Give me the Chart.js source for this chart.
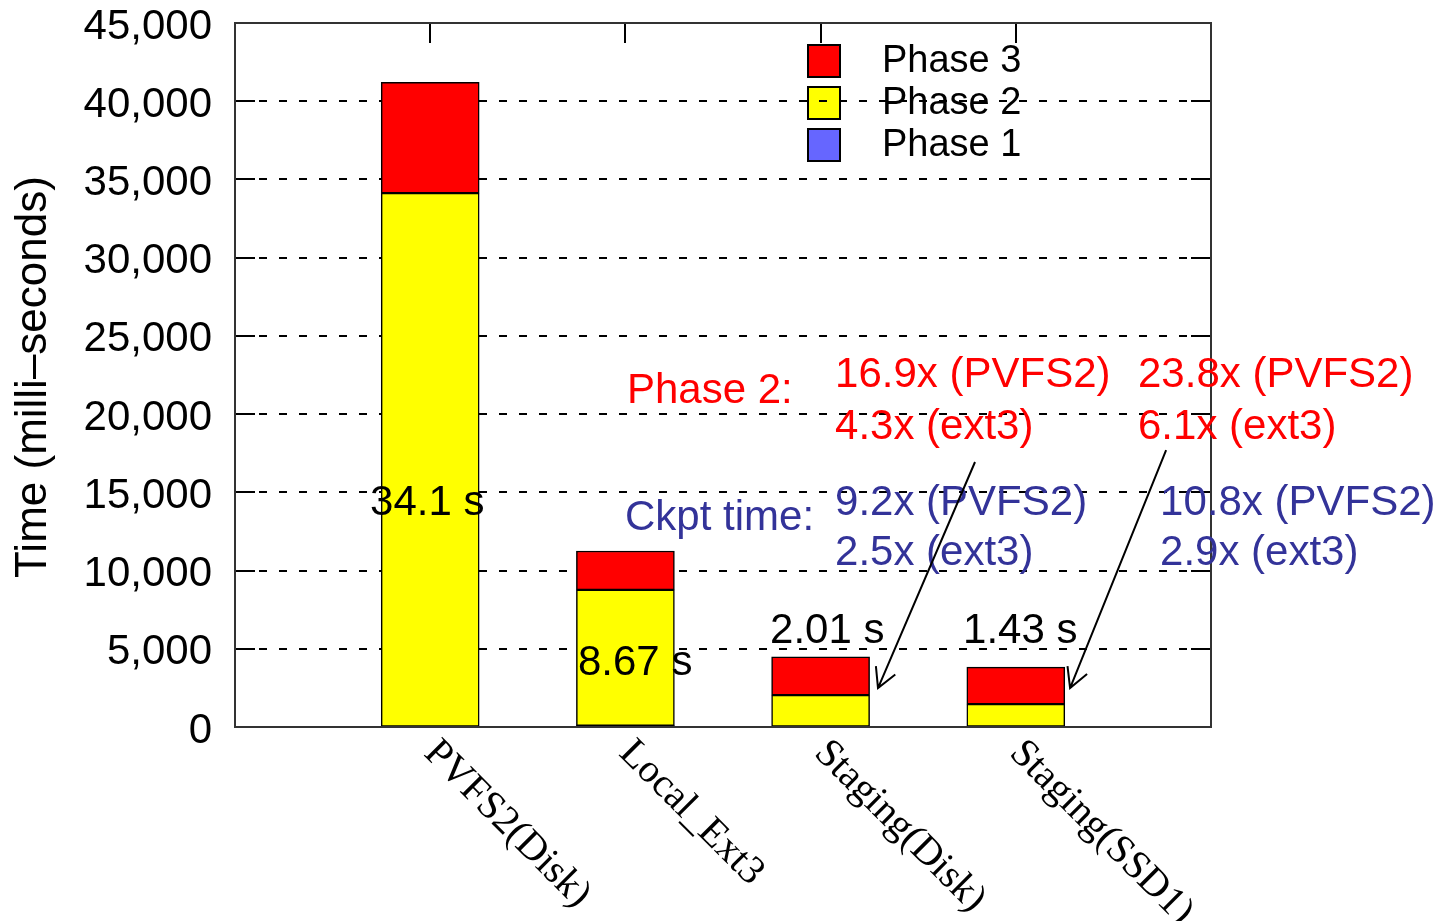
<!DOCTYPE html>
<html>
<head>
<meta charset="utf-8">
<script src="https://cdn.jsdelivr.net/npm/chart.js@4.4.1/dist/chart.umd.min.js"></script>
<style>
  html, body { margin: 0; padding: 0; background: #ffffff; }
  canvas { display: block; }
</style>
</head>
<body>
<canvas id="c" width="1448" height="921"></canvas>
<script>
// Checkpoint time per storage target, split by phase (milliseconds)
const categories = ['PVFS2(Disk)', 'Local_Ext3', 'Staging(Disk)', 'Staging(SSD1)'];
const phase1 = [30, 90, 30, 30];
const phase2 = [34100, 8670, 2010, 1430];
const phase3 = [7070, 2490, 2440, 2370];
const yTicks = [0, 5000, 10000, 15000, 20000, 25000, 30000, 35000, 40000, 45000];
const yTitle = 'Time (milli\u2013seconds)';

// Speedup notes (text only)
const phase2Head = 'Phase 2:';
const ckptHead = 'Ckpt time:';
const phase2VsDisk = ['16.9x (PVFS2)', '4.3x (ext3)'];
const phase2VsSsd = ['23.8x (PVFS2)', '6.1x (ext3)'];
const ckptVsDisk = ['9.2x (PVFS2)', '2.5x (ext3)'];
const ckptVsSsd = ['10.8x (PVFS2)', '2.9x (ext3)'];

const RED = '#ff0000';
const YELLOW = '#ffff00';
const BLUE = '#6666ff';
const NOTE_RED = '#ff0000';
const NOTE_BLUE = '#333399';
const SANS = '"Liberation Sans", Arial, sans-serif';
const SERIF = '"Liberation Serif", "Times New Roman", serif';

// Empty slots on both sides so the four bars sit at positions 1..4 of 0..5
const labels = ['', ...categories, ''];
const pad = arr => [null, ...arr, null];

// Note placement in axis units: x = category position, y = time value
const notes = [
  { text: phase2Head, color: NOTE_RED, x: 2.008, y: 21480 },
  { text: phase2VsDisk[0], color: NOTE_RED, x: 3.074, y: 22500 },
  { text: phase2VsDisk[1], color: NOTE_RED, x: 3.074, y: 19180 },
  { text: phase2VsSsd[0], color: NOTE_RED, x: 4.626, y: 22500 },
  { text: phase2VsSsd[1], color: NOTE_RED, x: 4.626, y: 19180 },
  { text: ckptHead, color: NOTE_BLUE, x: 1.998, y: 13360 },
  { text: ckptVsDisk[0], color: NOTE_BLUE, x: 3.074, y: 14320 },
  { text: ckptVsDisk[1], color: NOTE_BLUE, x: 3.074, y: 11120 },
  { text: ckptVsSsd[0], color: NOTE_BLUE, x: 4.739, y: 14320 },
  { text: ckptVsSsd[1], color: NOTE_BLUE, x: 4.739, y: 11120 }
];
// Phase 2 duration labels, offset from each bar centre (category units / time value)
const p2LabelPos = [
  { dx: -0.308, y: 14320 },
  { dx: -0.243, y: 4090 },
  { dx: -0.259, y: 6140 },
  { dx: -0.270, y: 6140 }
];
const arrows = [
  { from: [3.791, 16940], to: [3.294, 2490] },
  { from: [4.770, 17700], to: [4.278, 2490] }
];

const decor = {
  id: 'decor',
  beforeDatasetsDraw(chart) {
    const { ctx, chartArea: a } = chart;
    const ys = chart.scales.y, xs = chart.scales.x;
    ctx.save();
    // legend (drawn under the grid lines)
    const items = chart.data.datasets.slice().reverse();
    ctx.font = '38px ' + SANS;
    ctx.textBaseline = 'middle';
    ctx.textAlign = 'left';
    items.forEach((ds, i) => {
      const bx = 808, by = 45 + i * 42;
      ctx.fillStyle = ds.backgroundColor;
      ctx.fillRect(bx, by, 32, 32);
      ctx.lineWidth = 2;
      ctx.strokeStyle = '#000';
      ctx.strokeRect(bx, by, 32, 32);
      ctx.fillStyle = '#000';
      ctx.fillText(ds.label, 882, by + 17);
    });
    // dashed horizontal grid + solid inward ticks
    ctx.strokeStyle = '#000';
    ctx.lineWidth = 2;
    yTicks.forEach(v => {
      if (v === 0 || v === yTicks[yTicks.length - 1]) return;
      const y = Math.round(ys.getPixelForValue(v));
      ctx.setLineDash([8, 12]);
      ctx.beginPath();
      ctx.moveTo(a.left + 24, y);
      ctx.lineTo(a.right - 22, y);
      ctx.stroke();
      ctx.setLineDash([]);
      ctx.beginPath();
      ctx.moveTo(a.left, y); ctx.lineTo(a.left + 20, y);
      ctx.moveTo(a.right - 20, y); ctx.lineTo(a.right, y);
      ctx.stroke();
    });
    categories.forEach((c, i) => {
      const x = Math.round(xs.getPixelForValue(i + 1));
      ctx.beginPath();
      ctx.moveTo(x, a.top); ctx.lineTo(x, a.top + 20);
      ctx.moveTo(x, a.bottom); ctx.lineTo(x, a.bottom - 20);
      ctx.stroke();
    });
    ctx.restore();
  },
  afterDatasetsDraw(chart) {
    const { ctx, chartArea: a } = chart;
    const ys = chart.scales.y, xs = chart.scales.x;
    const px = v => xs.left + v * (xs.width / (labels.length - 1));
    ctx.save();
    // frame
    ctx.strokeStyle = '#333';
    ctx.lineWidth = 2;
    ctx.strokeRect(a.left, a.top, a.right - a.left, a.bottom - a.top);

    // y title
    ctx.fillStyle = '#000';
    ctx.font = '44px ' + SANS;
    ctx.save();
    ctx.translate(34, (a.top + a.bottom) / 2 + 2);
    ctx.rotate(-Math.PI / 2);
    ctx.textAlign = 'center';
    ctx.textBaseline = 'middle';
    ctx.fillText(yTitle, 0, 0);
    ctx.restore();

    // slanted category labels
    ctx.font = '40px ' + SERIF;
    categories.forEach((c, i) => {
      const x = xs.getPixelForValue(i + 1);
      ctx.save();
      ctx.translate(x + 14, a.bottom + 6);
      ctx.rotate(Math.PI / 4);
      ctx.textAlign = 'left';
      ctx.textBaseline = 'top';
      ctx.fillText(c, 0, 0);
      ctx.restore();
    });

    // phase 2 duration labels
    ctx.font = '42px ' + SANS;
    ctx.textAlign = 'left';
    ctx.textBaseline = 'middle';
    ctx.fillStyle = '#000';
    phase2.forEach((v, i) => {
      const p = p2LabelPos[i];
      const txt = (v / 1000).toPrecision(3) + ' s';
      ctx.fillText(txt, px(i + 1 + p.dx), ys.getPixelForValue(p.y));
    });

    // speedup notes
    notes.forEach(n => {
      ctx.fillStyle = n.color;
      ctx.fillText(n.text, px(n.x), ys.getPixelForValue(n.y));
    });

    // arrows
    ctx.strokeStyle = '#000';
    ctx.lineWidth = 2;
    arrows.forEach(ar => {
      const x1 = px(ar.from[0]), y1 = ys.getPixelForValue(ar.from[1]);
      const x2 = px(ar.to[0]), y2 = ys.getPixelForValue(ar.to[1]);
      const ang = Math.atan2(y2 - y1, x2 - x1);
      const len = 22, spread = 0.5;
      ctx.beginPath();
      ctx.moveTo(x1, y1); ctx.lineTo(x2, y2);
      ctx.moveTo(x2 - len * Math.cos(ang - spread), y2 - len * Math.sin(ang - spread));
      ctx.lineTo(x2, y2);
      ctx.lineTo(x2 - len * Math.cos(ang + spread), y2 - len * Math.sin(ang + spread));
      ctx.stroke();
    });
    ctx.restore();
  }
};

const barStyle = { borderColor: '#000', borderWidth: 1.5, borderSkipped: false, barThickness: 98 };

new Chart(document.getElementById('c'), {
  type: 'bar',
  data: {
    labels,
    datasets: [
      { label: 'Phase 1', data: pad(phase1), backgroundColor: BLUE, ...barStyle },
      { label: 'Phase 2', data: pad(phase2), backgroundColor: YELLOW, ...barStyle },
      { label: 'Phase 3', data: pad(phase3), backgroundColor: RED, ...barStyle }
    ]
  },
  options: {
    responsive: false,
    animation: false,
    devicePixelRatio: 1,
    layout: { padding: { top: 23, right: 237, left: 0, bottom: 0 } },
    plugins: { legend: { display: false }, tooltip: { enabled: false } },
    scales: {
      x: {
        stacked: true,
        offset: false,
        grid: { display: false },
        border: { display: false },
        ticks: { display: false },
        afterFit(s) { s.height = 194; s.paddingLeft = 0; s.paddingRight = 0; }
      },
      y: {
        stacked: true,
        min: 0,
        max: 45000,
        grid: { display: false },
        border: { display: false },
        afterBuildTicks(s) { s.ticks = yTicks.map(v => ({ value: v })); },
        ticks: {
          color: '#000',
          padding: 15,
          labelOffset: 4,
          font: { family: SANS, size: 42 },
          callback: v => v.toLocaleString('en-US')
        },
        afterFit(s) { s.width = 235; s.paddingTop = 0; s.paddingBottom = 0; }
      }
    }
  },
  plugins: [decor]
});
</script>
</body>
</html>
